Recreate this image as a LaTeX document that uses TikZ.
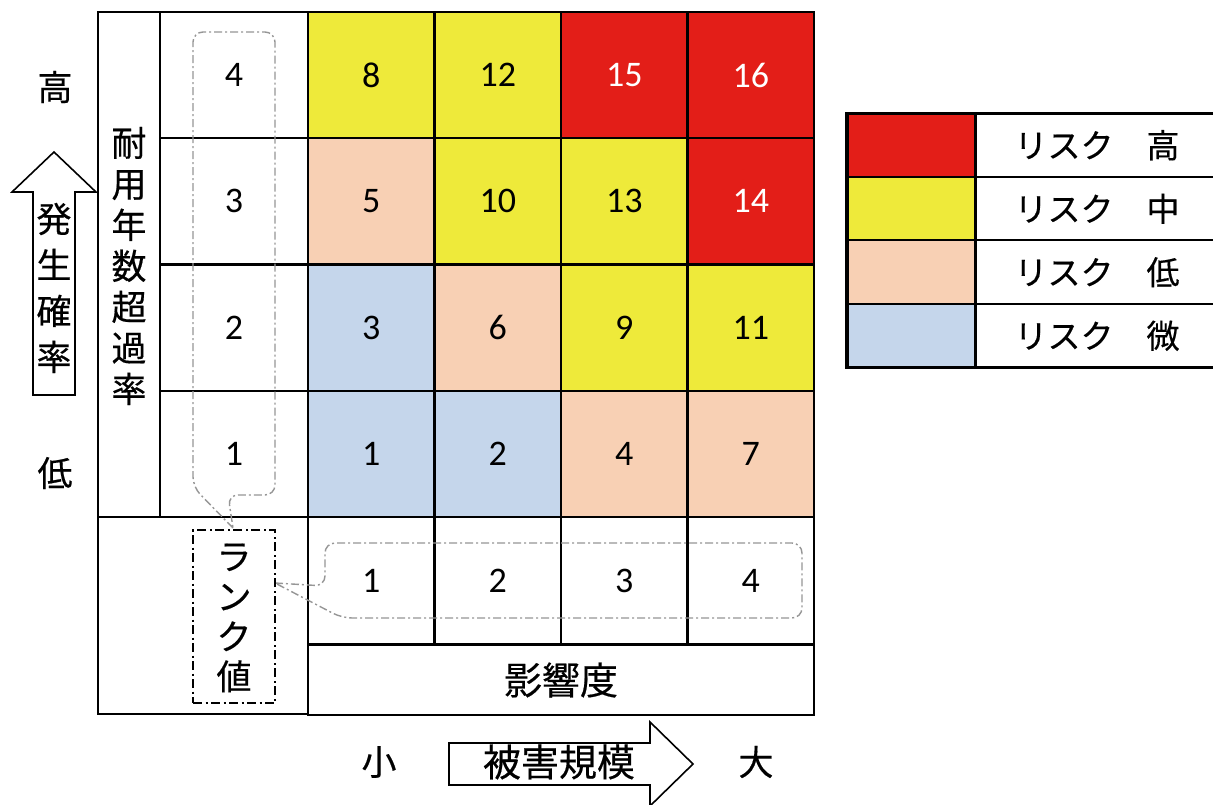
\documentclass[tikz,border=0pt]{standalone}
\usepackage{fontspec}
\setmainfont{Carlito}
\newfontfamily\jp[FakeBold=0.4]{Noto Sans CJK JP}
\definecolor{rred}{RGB}{227,30,24}
\definecolor{ryel}{RGB}{238,234,58}
\definecolor{rpch}{RGB}{248,208,180}
\definecolor{rblu}{RGB}{197,214,235}
\definecolor{cgray}{RGB}{150,150,150}
\begin{document}
\begin{tikzpicture}[x=1pt,y=-1pt,
  box/.style={draw=black, line width=2.1pt, inner sep=0pt, outer sep=0pt},
  cell/.style={box, minimum width=126.5pt, minimum height=126.25pt, font=\fontsize{36}{36}\selectfont},
  rk/.style={box, minimum width=148pt, minimum height=126.25pt, font=\fontsize{36}{36}\selectfont},
  jpt/.style={inner sep=0pt, font=\jp\fontsize{35}{35}\selectfont},
  callout/.style={draw=cgray, line width=1.4pt, dash pattern=on 8pt off 3pt on 2pt off 3pt, rounded corners=10pt},
  legc/.style={draw=black, line width=2pt, inner sep=0pt, outer sep=0pt, minimum width=128pt, minimum height=63.5pt},
  legt/.style={draw=black, line width=2pt, inner sep=0pt, outer sep=0pt, minimum width=243pt, minimum height=63.5pt, font=\jp\fontsize{33}{33}\selectfont},
  arrowshape/.style={draw=black, line width=1.6pt, fill=white, line join=miter}
]
\useasboundingbox (0,0) rectangle (1213,805);
\fill[white] (0,0) rectangle (1213,805);

% left column and rank column
\node[box, minimum width=62pt, minimum height=505pt] (lcol) at (129,264.5) {};
\node[rk] (r4) at (234,75.1) {4};
\node[rk] (r3) at (234,201.4) {3};
\node[rk] (r2) at (234,327.6) {2};
\node[rk] (r1) at (234,453.9) {1};

% risk grid
\node[cell, fill=ryel] (g48) at (371.25,75.1) {8};
\node[cell, fill=ryel] (g412) at (497.75,75.1) {12};
\node[cell, fill=rred, text=white] (g415) at (624.25,75.1) {15};
\node[cell, fill=rred, text=white] (g416) at (750.75,75.1) {16};
\node[cell, fill=rpch] (g35) at (371.25,201.4) {5};
\node[cell, fill=ryel] (g310) at (497.75,201.4) {10};
\node[cell, fill=ryel] (g313) at (624.25,201.4) {13};
\node[cell, fill=rred, text=white] (g314) at (750.75,201.4) {14};
\node[cell, fill=rblu] (g23) at (371.25,327.6) {3};
\node[cell, fill=rpch] (g26) at (497.75,327.6) {6};
\node[cell, fill=ryel] (g29) at (624.25,327.6) {9};
\node[cell, fill=ryel] (g211) at (750.75,327.6) {11};
\node[cell, fill=rblu] (g11) at (371.25,453.9) {1};
\node[cell, fill=rblu] (g12) at (497.75,453.9) {2};
\node[cell, fill=rpch] (g14) at (624.25,453.9) {4};
\node[cell, fill=rpch] (g17) at (750.75,453.9) {7};

% bottom rows
\node[box, minimum width=210pt, minimum height=197pt] (lbot) at (203,615.5) {};
\node[cell, minimum height=127pt] (b1) at (371.25,580.5) {1};
\node[cell, minimum height=127pt] (b2) at (497.75,580.5) {2};
\node[cell, minimum height=127pt] (b3) at (624.25,580.5) {3};
\node[cell, minimum height=127pt] (b4) at (750.75,580.5) {4};
\node[box, minimum width=506pt, minimum height=70pt, font=\jp\fontsize{38}{38}\selectfont] (eik) at (561,680) {影響度};

% vertical label
\node[inner sep=0pt, align=center, font=\jp\fontsize{35}{41}\selectfont] (tai) at (129,266) {耐\\用\\年\\数\\超\\過\\率};

% callouts
\draw[callout] (233,528) -- (193,487) -- (193,32) -- (275,32) -- (275,495) -- (228,495) -- (233,528);
\draw[callout] (275,583) -- (325,586) -- (325,543) -- (802,543) -- (802,618) -- (342,618) -- (275,583);

% rank value box
\node[draw=black, line width=1.5pt, dash pattern=on 9pt off 3.5pt on 2pt off 3.5pt, minimum width=82pt, minimum height=173pt, inner sep=0pt] (rankbox) at (234,616.5) {};
\node[inner sep=0pt, align=center, font=\jp\fontsize{35}{40}\selectfont] (ranktxt) at (234,618) {ラ\\ン\\ク\\値};

% up arrow (occurrence probability)
\draw[arrowshape] (33,395) -- (33,192) -- (12,192) -- (54,152) -- (96,192) -- (75,192) -- (75,395) -- cycle;
\node[inner sep=0pt, align=center, font=\jp\fontsize{35}{46}\selectfont] (hassei) at (54,288) {発\\生\\確\\率};
\node[jpt] (takai) at (55,87) {高};
\node[jpt] (hikui) at (55,473) {低};

% right arrow (damage scale)
\draw[arrowshape] (449,743) -- (650,743) -- (650,722) -- (693,764) -- (650,806) -- (650,785) -- (449,785) -- cycle;
\node[inner sep=0pt, font=\jp\fontsize{38}{38}\selectfont] (higai) at (559,762) {被害規模};
\node[jpt] (sho) at (379,762) {小};
\node[jpt] (dai) at (756,762) {大};

% legend
\node[legc, fill=rred] (lc1) at (911,145.25) {};
\node[legc, fill=ryel] (lc2) at (911,208.75) {};
\node[legc, fill=rpch] (lc3) at (911,272.25) {};
\node[legc, fill=rblu] (lc4) at (911,335.75) {};
\node[legt] (lt1) at (1097,145.25) {リスク　高};
\node[legt] (lt2) at (1097,208.75) {リスク　中};
\node[legt] (lt3) at (1097,272.25) {リスク　低};
\node[legt] (lt4) at (1097,335.75) {リスク　微};
\draw[line width=3.8pt] (847,113.5) rectangle (1218,367.5);
\end{tikzpicture}
\end{document}
